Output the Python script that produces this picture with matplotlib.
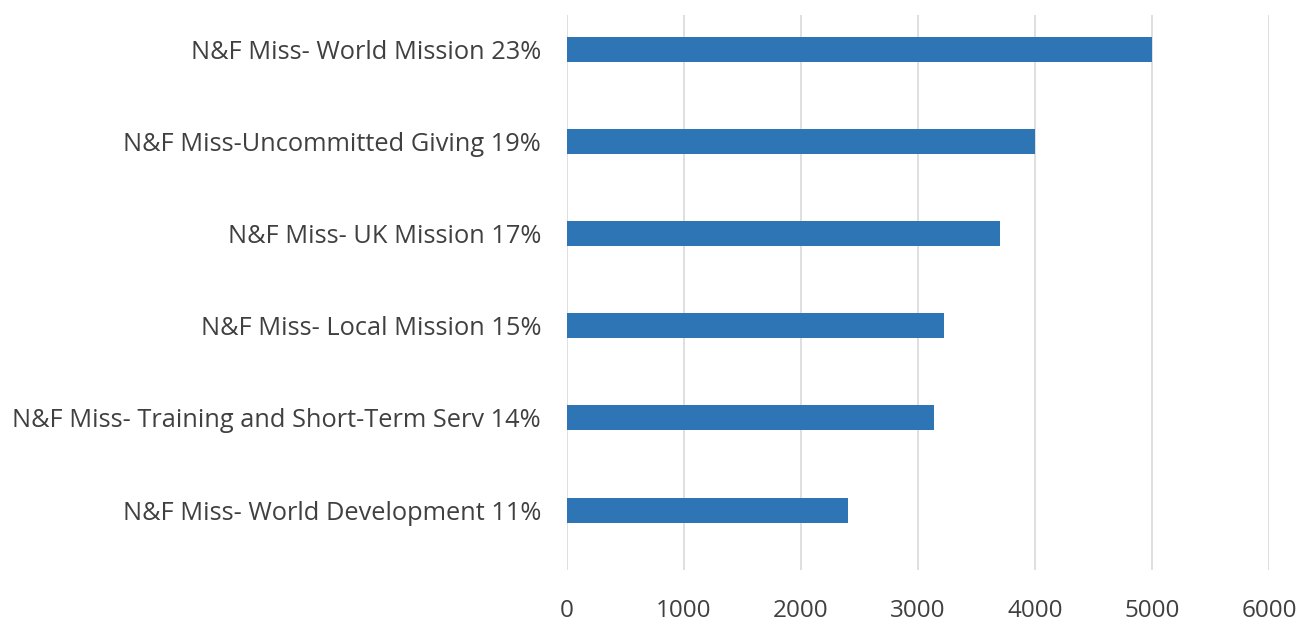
import matplotlib
matplotlib.use("Agg")
import matplotlib.pyplot as plt

categories = [
    "N&F Miss- World Development 11%",
    "N&F Miss- Training and Short-Term Serv 14%",
    "N&F Miss- Local Mission 15%",
    "N&F Miss- UK Mission 17%",
    "N&F Miss-Uncommitted Giving 19%",
    "N&F Miss- World Mission 23%",
]
values = [2400, 3140, 3220, 3700, 4000, 5000]
xticks = [0, 1000, 2000, 3000, 4000, 5000, 6000]

fig = plt.figure(figsize=(13.1, 6.25), dpi=100)
ax = fig.add_axes([0.4326, 0.088, 0.9687 - 0.4326, 0.976 - 0.088])
ypos = list(range(len(categories)))
ax.barh(ypos, values, height=0.27, color="#2E75B6", zorder=3)
ax.set_xlim(0, 6000)
ax.set_ylim(-0.65, 5.37)
ax.set_xticks(xticks)
ax.set_xticklabels([str(t) for t in xticks])
ax.set_yticks(ypos)
ax.set_yticklabels(categories)
ax.grid(axis="x", color="#D9D9D9", linewidth=1.2, zorder=0)
for s in ax.spines.values():
    s.set_visible(False)
ax.tick_params(axis="both", length=0, labelcolor="#404040")
ax.tick_params(axis="y", pad=18.5, labelsize=18.3)
ax.tick_params(axis="x", pad=21, labelsize=17.5)
for lbl in ax.get_xticklabels() + ax.get_yticklabels():
    lbl.set_fontfamily("Open Sans")
fig.savefig("out.png", dpi=100)
